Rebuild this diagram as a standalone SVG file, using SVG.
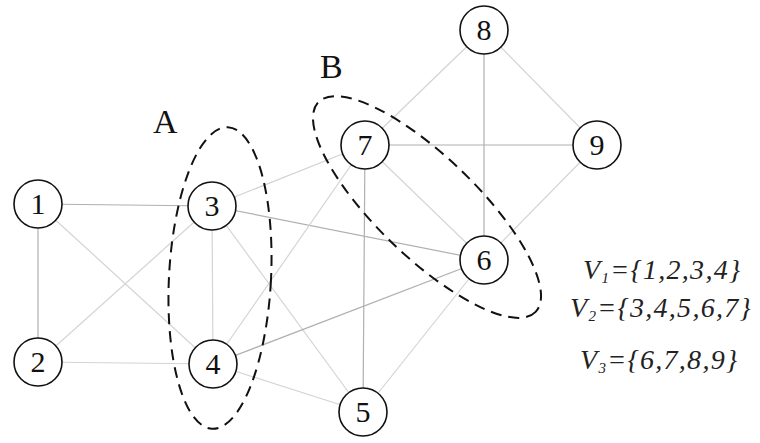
<svg xmlns="http://www.w3.org/2000/svg" width="760" height="443" viewBox="0 0 760 443">
<style>
.e{stroke:#b0b0b0;stroke-width:1.2;fill:none}
.f{stroke:#d4d4d4;stroke-width:1.2;fill:none}
.n circle{fill:#fff;stroke:#111;stroke-width:1.6}
.n text{font-family:"Liberation Serif",serif;font-size:30px;text-anchor:middle;fill:#111}
.grp{fill:none;stroke:#111;stroke-width:2;stroke-dasharray:11 7}
.lab{font-family:"Liberation Serif",serif;font-size:34px;fill:#111}
.set{font-family:"Liberation Serif",serif;font-style:italic;font-size:28px;letter-spacing:1.3px;fill:#222}
</style>
<rect width="760" height="443" fill="#fff"/>
<g id="connectors">
<line class="e" x1="38" y1="204" x2="212" y2="206"/>
<line class="e" x1="38" y1="204" x2="38" y2="362"/>
<line class="f" x1="38" y1="204" x2="213" y2="364"/>
<line class="f" x1="38" y1="362" x2="212" y2="206"/>
<line class="f" x1="38" y1="362" x2="213" y2="364"/>
<line class="f" x1="212" y1="206" x2="213" y2="364"/>
<line class="f" x1="212" y1="206" x2="365" y2="145"/>
<line class="e" x1="212" y1="206" x2="484" y2="260"/>
<line class="f" x1="212" y1="206" x2="363" y2="412"/>
<line class="f" x1="213" y1="364" x2="365" y2="145"/>
<line class="e" x1="213" y1="364" x2="484" y2="260"/>
<line class="f" x1="213" y1="364" x2="363" y2="412"/>
<line class="e" x1="365" y1="145" x2="363" y2="412"/>
<line class="e" x1="365" y1="145" x2="597" y2="145"/>
<line class="f" x1="365" y1="145" x2="484" y2="30"/>
<line class="f" x1="365" y1="145" x2="484" y2="260"/>
<line class="e" x1="484" y1="30" x2="484" y2="260"/>
<line class="f" x1="484" y1="30" x2="597" y2="145"/>
<line class="f" x1="597" y1="145" x2="484" y2="260"/>
<line class="f" x1="484" y1="260" x2="363" y2="412"/>
</g>
<g id="node1" class="n"><circle cx="38" cy="204" r="24"/><text x="38" y="214">1</text></g>
<g id="node2" class="n"><circle cx="38" cy="362" r="24"/><text x="38" y="372">2</text></g>
<g id="node3" class="n"><circle cx="212" cy="206" r="24"/><text x="212" y="216">3</text></g>
<g id="node4" class="n"><circle cx="213" cy="364" r="24"/><text x="213" y="374">4</text></g>
<g id="node5" class="n"><circle cx="363" cy="412" r="24"/><text x="363" y="422">5</text></g>
<g id="node6" class="n"><circle cx="484" cy="260" r="24"/><text x="484" y="270">6</text></g>
<g id="node7" class="n"><circle cx="365" cy="145" r="24"/><text x="365" y="155">7</text></g>
<g id="node8" class="n"><circle cx="484" cy="30" r="24"/><text x="484" y="40">8</text></g>
<g id="node9" class="n"><circle cx="597" cy="145" r="24"/><text x="597" y="155">9</text></g>
<g id="groupA"><ellipse class="grp" cx="0" cy="0" rx="51" ry="151" transform="translate(220,278) rotate(3)"/><text class="lab" x="153" y="133">A</text></g>
<g id="groupB"><ellipse class="grp" cx="0" cy="0" rx="151" ry="50" transform="translate(427,207) rotate(44)"/><text class="lab" x="320" y="78">B</text></g>
<g id="sets">
<text class="set" x="583" y="279">V<tspan font-size="15" dy="4">1</tspan><tspan dy="-4">={1,2,3,4}</tspan></text>
<text class="set" x="570" y="317">V<tspan font-size="15" dy="4">2</tspan><tspan dy="-4">={3,4,5,6,7}</tspan></text>
<text class="set" x="580" y="369">V<tspan font-size="15" dy="4">3</tspan><tspan dy="-4">={6,7,8,9}</tspan></text>
</g>
</svg>
